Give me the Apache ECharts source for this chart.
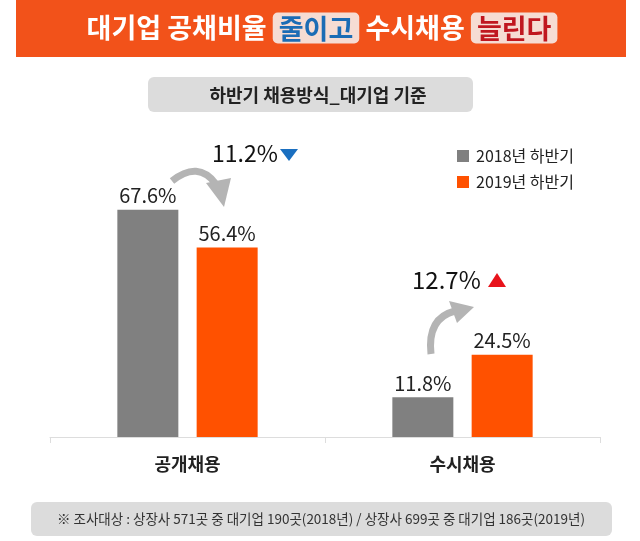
<!DOCTYPE html>
<html><head><meta charset="utf-8">
<script src="https://cdn.jsdelivr.net/npm/echarts@6/dist/echarts.min.js"></script>
<style>html,body{margin:0;padding:0;background:#fff}#c{width:640px;height:541px}</style>
</head><body><div id="c"></div>
<script>
const categories = ['공개채용', '수시채용'];
const seriesNames = ['2018년 하반기', '2019년 하반기'];
const values2018 = [67.6, 11.8];
const values2019 = [56.4, 24.5];
const changes = ['11.2%', '12.7%'];
const titleParts = ['대기업 공채비율', '줄이고', '수시채용', '늘린다'];
const subtitle = '하반기 채용방식_대기업 기준';
const footnote = '※ 조사대상 : 상장사 571곳 중 대기업 190곳(2018년) / 상장사 699곳 중 대기업 186곳(2019년)';

const FONT = '"Noto Sans CJK KR", "Noto Sans", sans-serif';
const GRAY = '#808080', ORANGE = '#FF5100', ARROW = '#B4B4B4';

const chart = echarts.init(document.getElementById('c'));
chart.setOption({
  backgroundColor: '#fff',
  textStyle: { fontFamily: FONT },
  grid: { left: 50, width: 550, top: 101, bottom: 104 },
  legend: {
    data: seriesNames, orient: 'vertical', left: 452, top: 143,
    icon: 'rect', itemWidth: 12, itemHeight: 12, itemGap: 10,
    textStyle: { fontSize: 16, color: '#222', fontFamily: FONT, padding: [0, 0, 0, 2] }
  },
  xAxis: {
    type: 'category', data: categories, boundaryGap: true,
    axisLine: { lineStyle: { color: '#DDDDDD', width: 1 } },
    axisTick: { show: true, length: 6, lineStyle: { color: '#DDDDDD' } },
    axisLabel: { fontSize: 18, fontWeight: 'bold', color: '#222', margin: 18, fontFamily: FONT }
  },
  yAxis: { type: 'value', min: 0, max: 100, show: false, splitLine: { show: false } },
  series: [
    { name: seriesNames[0], type: 'bar', data: values2018, barWidth: 61, barGap: '30%',
      itemStyle: { color: GRAY },
      label: { show: true, position: 'top', distance: 4, formatter: '{c}%', fontSize: 20, color: '#222', fontFamily: FONT } },
    { name: seriesNames[1], type: 'bar', data: values2019, barWidth: 61, barGap: '30%',
      itemStyle: { color: ORANGE },
      label: { show: true, position: 'top', distance: 4, formatter: '{c}%', fontSize: 20, color: '#222', fontFamily: FONT } }
  ],
  graphic: [
    { type: 'rect', shape: { x: 16, y: 0, width: 610, height: 57 }, style: { fill: '#F2521A' }, z: 0 },
    { type: 'text', x: 322, y: 28, style: {
        text: '{w|' + titleParts[0] + ' }{b|' + titleParts[1] + '}{w| ' + titleParts[2] + ' }{r|' + titleParts[3] + '}',
        align: 'center', verticalAlign: 'middle', font: 'bold 27px ' + FONT,
        rich: {
          w: { fill: '#fff', fontSize: 27, fontWeight: 'bold', fontFamily: FONT },
          b: { fill: '#1B6CB5', fontSize: 27, fontWeight: 'bold', fontFamily: FONT, backgroundColor: '#F6DCD3', borderRadius: 5, padding: [3, 6, 1, 6] },
          r: { fill: '#C0171F', fontSize: 27, fontWeight: 'bold', fontFamily: FONT, backgroundColor: '#F6DCD3', borderRadius: 5, padding: [3, 6, 1, 6] }
        } }, z: 1 },
    { type: 'rect', shape: { x: 148, y: 77, width: 325, height: 35, r: 6 }, style: { fill: '#DCDCDC' } },
    { type: 'text', x: 318, y: 95, style: { text: subtitle, align: 'center', verticalAlign: 'middle', font: 'bold 18px ' + FONT, fill: '#222' } },
    { type: 'rect', shape: { x: 31, y: 502, width: 581, height: 34, r: 6 }, style: { fill: '#DCDCDC' } },
    { type: 'text', x: 321, y: 519, style: { text: footnote, align: 'center', verticalAlign: 'middle', font: '13.5px ' + FONT, fill: '#333' } },
    // change annotations
    { type: 'text', x: 212, y: 153, style: { text: changes[0], align: 'left', verticalAlign: 'middle', font: '23px ' + FONT, fill: '#111' } },
    { type: 'polygon', shape: { points: [[280, 149], [298, 149], [289, 161]] }, style: { fill: '#1A6FC0' } },
    { type: 'text', x: 412, y: 280, style: { text: changes[1], align: 'left', verticalAlign: 'middle', font: '24px ' + FONT, fill: '#111' } },
    { type: 'polygon', shape: { points: [[488, 287], [506, 287], [497, 273]] }, style: { fill: '#E8131B' } },
    // arrows
    { type: 'bezierCurve', shape: { x1: 172, y1: 181, cpx1: 198, cpy1: 160, x2: 216, y2: 184 }, style: { stroke: ARROW, lineWidth: 7, fill: null } },
    { type: 'polygon', shape: { points: [[206, 183], [231, 178], [224, 207]] }, style: { fill: ARROW } },
    { type: 'bezierCurve', shape: { x1: 431, y1: 354, cpx1: 427, cpy1: 318, x2: 455, y2: 311 }, style: { stroke: ARROW, lineWidth: 7, fill: null } },
    { type: 'polygon', shape: { points: [[449, 301], [457, 323], [474, 307]] }, style: { fill: ARROW } }
  ]
});
</script>
</body></html>
